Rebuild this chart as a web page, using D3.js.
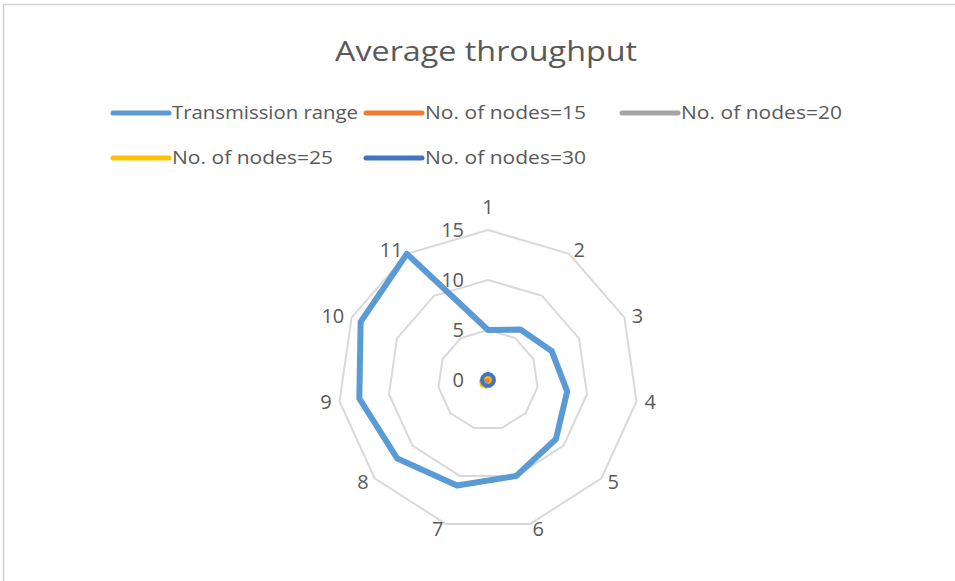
<!DOCTYPE html>
<html>
<head>
<meta charset="utf-8">
<script src="https://cdn.jsdelivr.net/npm/d3@7"></script>
<style>
  html, body { margin: 0; padding: 0; background: #fff; }
  svg { display: block; font-family: "Open Sans", "Noto Sans", sans-serif; }
</style>
</head>
<body>
<svg id="chart" width="955" height="581"></svg>
<script>
// Radar categories (1..11) and the series plotted on them
const categories = ["1", "2", "3", "4", "5", "6", "7", "8", "9", "10", "11"];
const transmissionRange = [5, 6, 7, 8, 9, 10, 11, 12, 13, 14, 15];
const nodes15 = [0.2, 0.2, 0.2, 0.2, 0.2, 0.2, 0.2, 0.2, 0.2, 0.2, 0.2];
const nodes20 = [0.5, 0.5, 0.5, 0.5, 0.5, 0.5, 0.5, 0.5, 0.5, 0.5, 0.5];
const nodes25 = [0.4, 0.4, 0.4, 0.4, 0.4, 0.5, 0.7, 0.8, 0.7, 0.5, 0.4];
const nodes30 = [0.6, 0.6, 0.6, 0.6, 0.6, 0.6, 0.6, 0.6, 0.6, 0.6, 0.6];
const seriesNames = ["Transmission range", "No. of nodes=15", "No. of nodes=20", "No. of nodes=25", "No. of nodes=30"];
const seriesColors = ["#5b9bd5", "#ed7d31", "#a5a5a5", "#ffc000", "#4472c4"];
const radialTicks = [0, 5, 10, 15];

const seriesData = [transmissionRange, nodes15, nodes20, nodes25, nodes30];

const svg = d3.select("#chart");
const textColor = "#595959";

// Chart area frame
svg.append("rect")
  .attr("x", 3.5).attr("y", 4.5)
  .attr("width", 1000).attr("height", 1000)
  .attr("fill", "#fff")
  .attr("stroke", "#d0d0d0").attr("stroke-width", 1.5);

// Title
svg.append("text")
  .attr("x", 486).attr("y", 61)
  .attr("text-anchor", "middle")
  .attr("font-size", 28)
  .attr("fill", textColor)
  .attr("textLength", 302).attr("lengthAdjust", "spacingAndGlyphs")
  .text("Average throughput");

// Legend
const legendItems = [
  { x: 113, y: 113, w: 186 },
  { x: 366, y: 113, w: 161 },
  { x: 622, y: 113, w: 161 },
  { x: 113, y: 158, w: 161 },
  { x: 366, y: 158, w: 161 }
];
const legend = svg.append("g");
legendItems.forEach((it, i) => {
  legend.append("line")
    .attr("x1", it.x).attr("x2", it.x + 56)
    .attr("y1", it.y).attr("y2", it.y)
    .attr("stroke", seriesColors[i]).attr("stroke-width", 5)
    .attr("stroke-linecap", "round");
  legend.append("text")
    .attr("x", it.x + 59).attr("y", it.y)
    .attr("dy", "0.35em")
    .attr("font-size", 18)
    .attr("fill", textColor)
    .attr("textLength", it.w).attr("lengthAdjust", "spacingAndGlyphs")
    .text(seriesNames[i]);
});

// Radar geometry
const cx = 488, cy = 380;
const r = d3.scaleLinear().domain([0, 15]).range([0, 150]);
const angle = d3.scalePoint()
  .domain(categories)
  .range([0, 2 * Math.PI * (categories.length - 1) / categories.length]);

const g = svg.append("g").attr("transform", `translate(${cx},${cy})`);

const radial = d3.lineRadial()
  .angle((d, i) => angle(categories[i]))
  .curve(d3.curveLinearClosed);

// Grid rings
radialTicks.filter(t => t > 0).forEach(t => {
  g.append("path")
    .attr("d", radial.radius(() => r(t))(categories))
    .attr("fill", "none")
    .attr("stroke", "#d9d9d9")
    .attr("stroke-width", 2);
});

// Value axis labels along the first spoke
g.selectAll("text.tick")
  .data(radialTicks)
  .join("text")
  .attr("class", "tick")
  .attr("x", -24)
  .attr("y", d => -r(d))
  .attr("dy", "0.36em")
  .attr("text-anchor", "end")
  .attr("font-size", 20)
  .attr("fill", textColor)
  .text(d => d);

// Category labels sit just outside the outer ring, anchored away from the centre
g.selectAll("text.cat")
  .data(categories)
  .join("text")
  .attr("class", "cat")
  .each(function (d) {
    const a = angle(d);
    const s = Math.sin(a), c = Math.cos(a);
    const vx = s * r(15), vy = -c * r(15);
    const t = d3.select(this);
    if (Math.abs(s) < 0.1) {
      t.attr("x", vx).attr("y", vy - 23).attr("text-anchor", "middle");
    } else {
      t.attr("x", vx + s * 8)
        .attr("y", vy - c * 5)
        .attr("text-anchor", s > 0 ? "start" : "end");
    }
  })
  .attr("dy", "0.36em")
  .attr("font-size", 20)
  .attr("fill", textColor)
  .text(d => d);

// Series polygons
seriesData.forEach((vals, si) => {
  g.append("path")
    .attr("d", d3.lineRadial()
      .angle((d, i) => angle(categories[i]))
      .radius(d => r(d))
      .curve(d3.curveLinearClosed)(vals))
    .attr("fill", "none")
    .attr("stroke", seriesColors[si])
    .attr("stroke-width", si === 0 ? 6 : 4)
    .attr("stroke-linejoin", "round");
});
</script>
</body>
</html>
